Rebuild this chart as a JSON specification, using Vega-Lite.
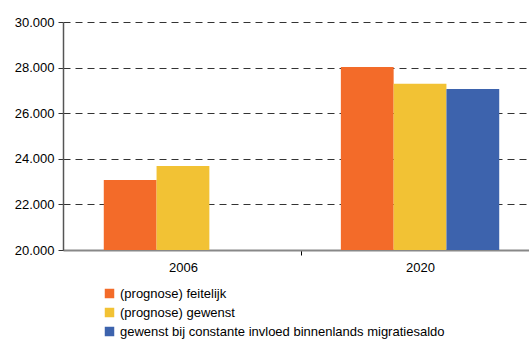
{
  "$schema": "https://vega.github.io/schema/vega-lite/v6.json",
  "autosize": {"type": "none"},
  "width": 466,
  "height": 228,
  "padding": {"left": 63, "top": 22, "right": 0, "bottom": 93},
  "background": "white",
  "config": {
    "view": {"stroke": null},
    "font": "Liberation Sans",
    "locale": {"number": {"decimal": ",", "thousands": ".", "grouping": [3], "currency": ["€", ""]}}
  },
  "data": {
    "values": [
      {"jaar": "2006", "reeks": "(prognose) feitelijk", "waarde": 23070},
      {"jaar": "2006", "reeks": "(prognose) gewenst", "waarde": 23680},
      {"jaar": "2020", "reeks": "(prognose) feitelijk", "waarde": 28030},
      {"jaar": "2020", "reeks": "(prognose) gewenst", "waarde": 27290},
      {"jaar": "2020", "reeks": "gewenst bij constante invloed binnenlands migratiesaldo", "waarde": 27060}
    ]
  },
  "mark": {"type": "bar", "clip": true},
  "encoding": {
    "x": {
      "field": "jaar", "type": "nominal",
      "scale": {"range": [0, 477], "paddingInner": 0.332, "paddingOuter": 0.172},
      "axis": {
        "title": null, "labelAngle": 0, "labelFontSize": 13, "labelColor": "#000",
        "domainColor": "#888", "domainWidth": 2, "tickColor": "#000", "tickSize": 5,
        "tickOffset": 118.5, "labelOffset": -118.5, "labelPadding": 6, "grid": false
      }
    },
    "xOffset": {
      "field": "reeks", "type": "nominal",
      "sort": ["(prognose) feitelijk", "(prognose) gewenst", "gewenst bij constante invloed binnenlands migratiesaldo"],
      "scale": {"paddingInner": 0, "paddingOuter": 0}
    },
    "y": {
      "field": "waarde", "type": "quantitative",
      "scale": {"domain": [20000, 30000], "zero": false, "nice": false},
      "axis": {
        "title": null, "values": [20000, 22000, 24000, 26000, 28000, 30000],
        "format": ",.0f", "labelFontSize": 13, "labelColor": "#000",
        "domainColor": "#555", "domainWidth": 1.5, "tickColor": "#333", "tickSize": 5,
        "labelPadding": 4,
        "grid": true, "gridColor": "#333", "gridDash": [7, 5], "gridWidth": 1
      }
    },
    "color": {
      "field": "reeks", "type": "nominal",
      "scale": {
        "domain": ["(prognose) feitelijk", "(prognose) gewenst", "gewenst bij constante invloed binnenlands migratiesaldo"],
        "range": ["#F36B29", "#F2C234", "#3D63AD"]
      },
      "legend": {
        "title": null, "orient": "none", "legendX": 40, "legendY": 265,
        "direction": "vertical", "symbolType": "square", "symbolSize": 90,
        "symbolStrokeWidth": 0, "labelFontSize": 13, "labelColor": "#000",
        "rowPadding": 5, "labelOffset": 4, "labelLimit": 400
      }
    }
  }
}
